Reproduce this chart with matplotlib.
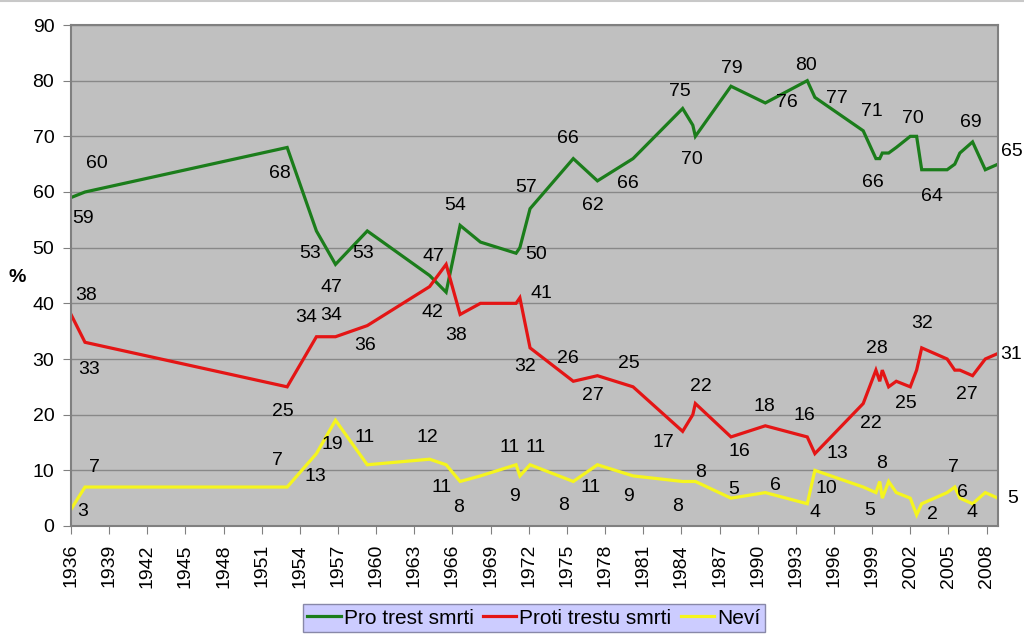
import matplotlib
matplotlib.use("Agg")
import matplotlib.pyplot as plt

plt.rcParams['font.family'] = ['Liberation Sans', 'DejaVu Sans']

# poll dates (decimal years) and answers in %
years = [1936.0, 1937.1, 1953.0, 1955.3, 1956.8, 1959.3, 1964.2, 1965.5, 1966.6, 1968.2,
         1971.0, 1971.3, 1972.1, 1975.5, 1977.4, 1980.2, 1984.1, 1984.9, 1985.1, 1987.9,
         1990.6, 1993.9, 1994.5, 1998.3, 1999.3, 1999.6, 1999.8, 2000.3, 2000.9, 2002.0,
         2002.5, 2002.9, 2004.9, 2005.5, 2005.9, 2006.9, 2007.9, 2008.9]
pro = [59, 60, 68, 53, 47, 53, 45, 42, 54, 51, 49, 50, 57, 66, 62, 66, 75, 72, 70, 79,
       76, 80, 77, 71, 66, 66, 67, 67, 68, 70, 70, 64, 64, 65, 67, 69, 64, 65]
proti = [38, 33, 25, 34, 34, 36, 43, 47, 38, 40, 40, 41, 32, 26, 27, 25, 17, 20, 22, 16,
         18, 16, 13, 22, 28, 26, 28, 25, 26, 25, 28, 32, 30, 28, 28, 27, 30, 31]
nevi = [3, 7, 7, 13, 19, 11, 12, 11, 8, 9, 11, 9, 11, 8, 11, 9, 8, 8, 8, 5,
        6, 4, 10, 7, 6, 8, 5, 8, 6, 5, 2, 4, 6, 7, 5, 4, 6, 5]

# which points get a value label, with label offset in pixels (dx, dy down)
pro_lbl = {0: (12, 21), 1: (12, -28), 2: (-7, 26), 3: (-6, 23), 4: (-4, 23), 5: (-4, 23),
           7: (-14, 20), 8: (-5, -20), 11: (16, 7), 12: (-4, -21), 13: (-5, -20),
           14: (-5, 25), 15: (-5, 25), 16: (-3, -17), 18: (-3, 23), 19: (1, -18),
           20: (22, 0), 21: (-1, -15), 22: (22, 1), 23: (9, -19), 24: (-3, 24),
           29: (3, -18), 31: (10, 27), 35: (-2, -19), 37: (14, -13)}
proti_lbl = {0: (15, -19), 1: (4, 27), 2: (-4, 25), 3: (-10, -19), 4: (-4, -21),
             5: (-2, 20), 7: (-13, -8), 8: (-4, 21), 11: (22, -4), 12: (-5, 19),
             13: (-5, -23), 14: (-5, 20), 15: (-4, -23), 16: (-19, 11), 18: (6, -17),
             19: (8, 15), 20: (-1, -19), 21: (-3, -21), 22: (22, 0), 23: (8, 20),
             24: (1, -22), 29: (-4, 17), 31: (0, -24), 35: (-6, 19), 37: (13, 1)}
nevi_lbl = {0: (12, 2), 1: (9, -20), 2: (-10, -27), 3: (-1, 23), 4: (-3, 24),
            5: (-3, -27), 6: (-2, -22), 7: (-4, 23), 8: (-2, 26), 10: (-6, -17),
            11: (-5, 21), 12: (6, -17), 13: (-10, 24), 14: (-7, 23), 15: (-5, 21),
            16: (-5, 25), 18: (5, -9), 19: (3, -9), 20: (10, -7), 21: (8, 9),
            22: (11, 18), 25: (2, -18), 26: (-13, 12), 30: (16, 0), 32: (15, 0),
            33: (-1, -20), 35: (-1, 9), 37: (15, 0)}

fig = plt.figure(figsize=(10.24, 6.35), dpi=100)
ax = fig.add_axes([71 / 1024, 1 - 526 / 635, 927 / 1024, 501 / 635])
ax.set_facecolor('#c0c0c0')

series = [(pro, '#1b7d1b', 'Pro trest smrti', pro_lbl),
          (proti, '#e41515', 'Proti trestu smrti', proti_lbl),
          (nevi, '#f5f51e', 'Neví', nevi_lbl)]
for vals, col, name, lbl in series:
    ax.plot(years, vals, color=col, lw=2.3, label=name, solid_joinstyle='miter')
    for i, (dx, dy) in lbl.items():
        ax.annotate(str(vals[i]), xy=(years[i], vals[i]), xytext=(dx, -dy),
                    textcoords='offset pixels', ha='center', va='center',
                    fontsize=14, color='black', annotation_clip=False)

ax.set_xlim(years[0], years[-1])
ax.set_ylim(0, 90)
ax.set_yticks(range(0, 91, 10))
ax.set_xticks(range(1936, 2009, 3))
ax.tick_params(axis='x', labelrotation=90, labelsize=14, length=6, color='#808080', pad=7)
ax.tick_params(axis='y', labelsize=14, length=6, color='#808080', pad=6)
ax.yaxis.grid(True, color='#888888', lw=1)
ax.set_axisbelow(True)
for sp in ax.spines.values():
    sp.set_color('#808080')
    sp.set_linewidth(1.5)

fig.text(17 / 1024, 1 - 277 / 635, '%', fontsize=14, fontweight='bold',
         ha='center', va='center')

leg = fig.legend(loc='center', bbox_to_anchor=(534 / 1024, 1 - 618 / 635), ncol=3,
                 fontsize=15, frameon=True, fancybox=False, facecolor='#ccccff',
                 edgecolor='#8888a8', framealpha=1, handlelength=1.6,
                 handletextpad=0.15, columnspacing=0.45, borderpad=0.2,
                 borderaxespad=0)
leg.get_frame().set_linewidth(1)

fig.add_artist(plt.Line2D([0, 1], [0.999, 0.999], color='#c8c8c8', lw=1.5))

fig.savefig('out.png', dpi=100)
